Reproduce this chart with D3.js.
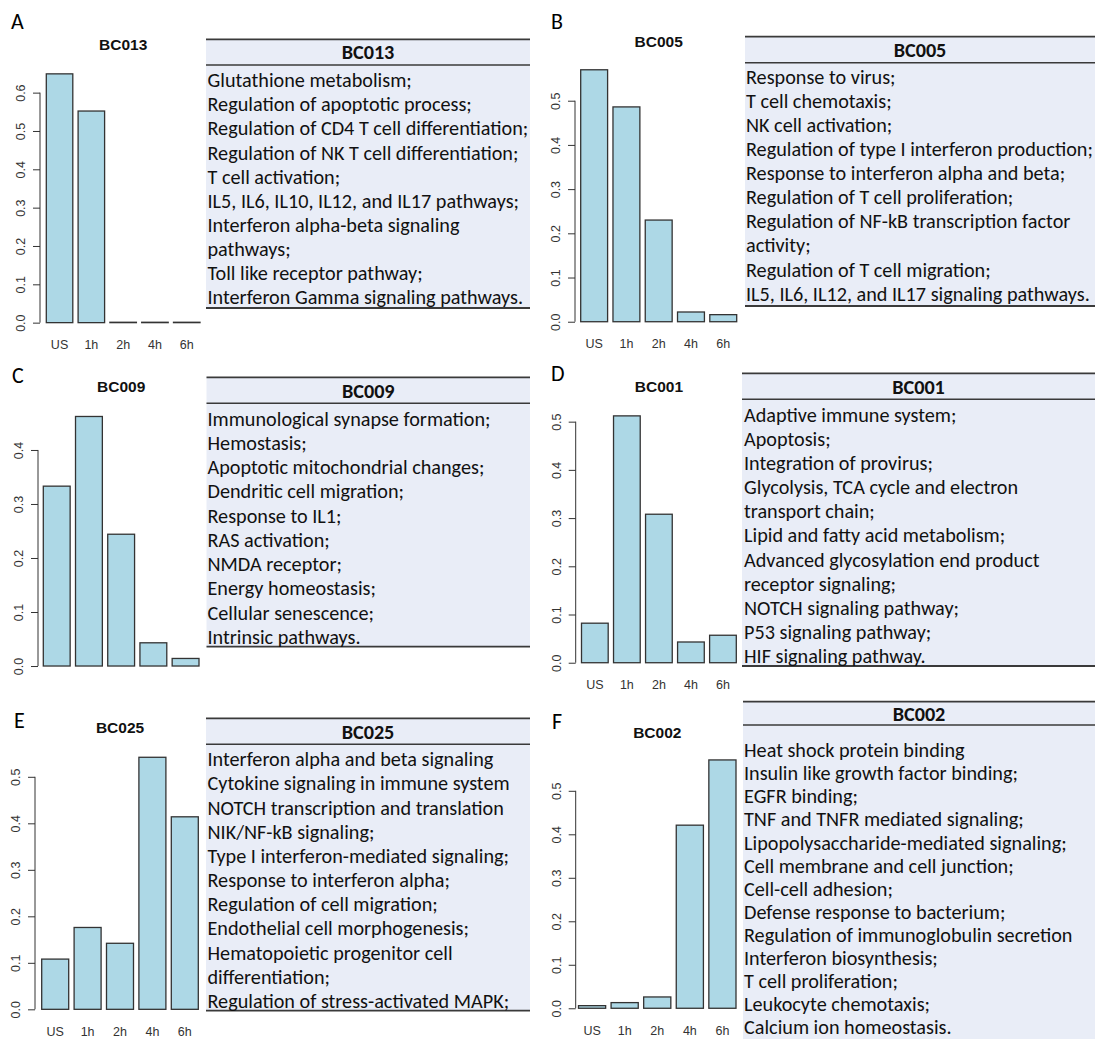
<!DOCTYPE html>
<html>
<head>
<meta charset="utf-8">
<script src="https://cdn.jsdelivr.net/npm/d3@7"></script>
<style>
  body { margin: 0; background: #fff; }
  svg { display: block; }
</style>
</head>
<body>
<div id="figure"></div>
<script>
// ---- data ----
const timepoints = ["US", "1h", "2h", "4h", "6h"];
const letters = ["A", "B", "C", "D", "E", "F"];
const clusters = ["BC013", "BC005", "BC009", "BC001", "BC025", "BC002"];

const valuesBC013 = [0.649, 0.552, 0.001, 0.001, 0.001];
const valuesBC005 = [0.570, 0.486, 0.230, 0.022, 0.016];
const valuesBC009 = [0.333, 0.462, 0.244, 0.043, 0.014];
const valuesBC001 = [0.082, 0.512, 0.308, 0.043, 0.057];
const valuesBC025 = [0.108, 0.176, 0.142, 0.542, 0.414];
const valuesBC002 = [0.006, 0.013, 0.026, 0.421, 0.571];

const termsBC013 = [
  "Glutathione metabolism;",
  "Regulation of apoptotic process;",
  "Regulation of CD4 T cell differentiation;",
  "Regulation of NK T cell differentiation;",
  "T cell activation;",
  "IL5, IL6, IL10, IL12, and IL17 pathways;",
  "Interferon alpha-beta signaling",
  "pathways;",
  "Toll like receptor pathway;",
  "Interferon Gamma signaling pathways.",
];
const termsBC005 = [
  "Response to virus;",
  "T cell chemotaxis;",
  "NK cell activation;",
  "Regulation of type I interferon production;",
  "Response to interferon alpha and beta;",
  "Regulation of T cell proliferation;",
  "Regulation of NF-kB transcription factor",
  "activity;",
  "Regulation of T cell migration;",
  "IL5, IL6, IL12, and IL17 signaling pathways.",
];
const termsBC009 = [
  "Immunological synapse formation;",
  "Hemostasis;",
  "Apoptotic mitochondrial changes;",
  "Dendritic cell migration;",
  "Response to IL1;",
  "RAS activation;",
  "NMDA receptor;",
  "Energy homeostasis;",
  "Cellular senescence;",
  "Intrinsic pathways.",
];
const termsBC001 = [
  "Adaptive immune system;",
  "Apoptosis;",
  "Integration of provirus;",
  "Glycolysis, TCA cycle and electron",
  "transport chain;",
  "Lipid and fatty acid metabolism;",
  "Advanced glycosylation end product",
  "receptor signaling;",
  "NOTCH signaling pathway;",
  "P53 signaling pathway;",
  "HIF signaling pathway.",
];
const termsBC025 = [
  "Interferon alpha and beta signaling",
  "Cytokine signaling in immune system",
  "NOTCH transcription and translation",
  "NIK/NF-kB signaling;",
  "Type I interferon-mediated signaling;",
  "Response to interferon alpha;",
  "Regulation of cell migration;",
  "Endothelial cell morphogenesis;",
  "Hematopoietic progenitor cell",
  "differentiation;",
  "Regulation of stress-activated MAPK;",
];
const termsBC002 = [
  "Heat shock protein binding",
  "Insulin like growth factor binding;",
  "EGFR binding;",
  "TNF and TNFR mediated signaling;",
  "Lipopolysaccharide-mediated signaling;",
  "Cell membrane and cell junction;",
  "Cell-cell adhesion;",
  "Defense response to bacterium;",
  "Regulation of immunoglobulin secretion",
  "Interferon biosynthesis;",
  "T cell proliferation;",
  "Leukocyte chemotaxis;",
  "Calcium ion homeostasis.",
];

const values = [valuesBC013, valuesBC005, valuesBC009, valuesBC001, valuesBC025, valuesBC002];
const terms = [termsBC013, termsBC005, termsBC009, termsBC001, termsBC025, termsBC002];

// ---- layout (pixel positions of each panel piece) ----
const layout = [
  { letter: [11, 29], axisX: 40, bars: [46.3, 200], plot: [63.9, 332.6], titleY: 50, xLabels: true,
    table: { x0: 206, x1: 530, textX: 207.5, top: 39.3, rule: 65, first: 80, lh: 24.08, bottom: 308 } },
  { letter: [551, 29], axisX: 575, bars: [580.7, 736.7], plot: [59.7, 331.8], titleY: 46.7, xLabels: true,
    table: { x0: 745, x1: 1095, textX: 746, top: 36.7, rule: 62.7, first: 76.7, lh: 24.07, bottom: 306 } },
  { letter: [12, 383], axisX: 38, bars: [43.3, 199], plot: [406.5, 676], titleY: 392, xLabels: false,
    table: { x0: 206.5, x1: 530, textX: 207.5, top: 377.3, rule: 403.3, first: 418.3, lh: 24.27, bottom: 646.7 } },
  { letter: [551, 381], axisX: 575.7, bars: [581.5, 736.3], plot: [406, 672.6], titleY: 392, xLabels: true,
    table: { x0: 742, x1: 1095, textX: 744, top: 373.3, rule: 399.3, first: 414.3, lh: 24.17, bottom: 666 } },
  { letter: [14, 728], axisX: 35, bars: [41.7, 198.3], plot: [747.2, 1019.4], titleY: 733, xLabels: true,
    table: { x0: 206, x1: 530, textX: 207.5, top: 718.3, rule: 744.3, first: 759, lh: 24.17, bottom: 1010.7 } },
  { letter: [552, 729], axisX: 575.7, bars: [578.5, 736], plot: [750, 1018.2], titleY: 738, xLabels: true,
    table: { x0: 743, x1: 1095, textX: 744, top: 701.7, rule: 725, first: 750, lh: 23.06, bottom: null } },
];

const colors = {
  bar: "#add8e6",
  ink: "#333",
  tableBg: "#e9edf7",
  tableRule: "#3a3a3a",
  text: "#111",
};

const rFont = "'Liberation Sans', Arial, Helvetica, sans-serif";
const tableFont = "Carlito, Lato, 'Open Sans', sans-serif";

const svg = d3
  .select("#figure")
  .append("svg")
  .attr("width", 1095)
  .attr("height", 1039)
  .attr("viewBox", [0, 0, 1095, 1039]);

// pick a table font size so the longest line of table A is as wide as in the figure
function fitTableFontSize() {
  const probe = svg
    .append("text")
    .attr("font-family", tableFont)
    .attr("font-size", 20)
    .text("Regulation of CD4 T cell differentiation;");
  const w = probe.node().getComputedTextLength();
  probe.remove();
  return (20 * 321) / w;
}
const tableFontSize = fitTableFontSize();

function drawBarPanel(g, i) {
  const L = layout[i];
  const data = values[i];
  const max = d3.max(data);

  // R barplot style: 4% padding around the data range
  const y = d3
    .scaleLinear()
    .domain([-0.04 * max, 1.04 * max])
    .range([L.plot[1], L.plot[0]]);

  const x = d3
    .scaleBand()
    .domain(timepoints)
    .range(L.bars)
    .paddingInner(1 / 6)
    .paddingOuter(0);

  g.append("g")
    .selectAll("rect")
    .data(data)
    .join("rect")
    .attr("x", (d, j) => x(timepoints[j]))
    .attr("width", x.bandwidth())
    .attr("y", (d) => y(d))
    .attr("height", (d) => y(0) - y(d))
    .attr("fill", colors.bar)
    .attr("stroke", colors.ink)
    .attr("stroke-width", 1.3);

  // y axis, line only spans the tick range like R does
  const ticks = y.ticks(6).filter((t) => t >= -1e-9);
  const axis = d3
    .axisLeft(y)
    .tickValues(ticks)
    .tickSize(7)
    .tickSizeOuter(0)
    .tickFormat(d3.format(".1f"));

  const ag = g.append("g").attr("transform", `translate(${L.axisX},0)`).call(axis);
  ag.select(".domain")
    .attr("d", `M0,${y(ticks[0])}V${y(ticks[ticks.length - 1])}`)
    .attr("stroke", colors.ink);
  ag.selectAll(".tick line").attr("stroke", colors.ink);
  ag.selectAll(".tick text")
    .attr("font-family", rFont)
    .attr("font-size", 12.5)
    .attr("fill", colors.ink)
    .attr("text-anchor", "middle")
    .attr("x", null)
    .attr("dy", null)
    .attr("transform", "translate(-15,0) rotate(-90)");

  // title
  g.append("text")
    .attr("x", (L.bars[0] + L.bars[1]) / 2)
    .attr("y", L.titleY)
    .attr("text-anchor", "middle")
    .attr("font-family", rFont)
    .attr("font-weight", "bold")
    .attr("font-size", 15.5)
    .attr("fill", "#111")
    .text(clusters[i]);

  if (L.xLabels) {
    g.append("g")
      .selectAll("text")
      .data(timepoints)
      .join("text")
      .attr("x", (d) => x(d) + x.bandwidth() / 2)
      .attr("y", y(0) + 26.5)
      .attr("text-anchor", "middle")
      .attr("font-family", rFont)
      .attr("font-size", 12.5)
      .attr("fill", colors.ink)
      .text((d) => d);
  }

  // panel letter
  g.append("text")
    .attr("x", L.letter[0])
    .attr("y", L.letter[1])
    .attr("font-family", tableFont)
    .attr("font-size", 22)
    .attr("fill", "#000")
    .text(letters[i]);
}

function drawTable(g, i) {
  const T = layout[i].table;
  const lines = terms[i];
  const bottom = T.bottom == null ? 1039 : T.bottom;

  g.append("rect")
    .attr("x", T.x0)
    .attr("y", T.top)
    .attr("width", T.x1 - T.x0)
    .attr("height", bottom - T.top)
    .attr("fill", colors.tableBg);

  const rules = [T.top, T.rule];
  if (T.bottom != null) rules.push(T.bottom);
  g.append("g")
    .selectAll("line")
    .data(rules)
    .join("line")
    .attr("x1", T.x0)
    .attr("x2", T.x1)
    .attr("y1", (d) => d)
    .attr("y2", (d) => d)
    .attr("stroke", colors.tableRule)
    .attr("stroke-width", (d, j) => (j === 1 ? 1.4 : 1.8));

  // header
  g.append("text")
    .attr("x", (T.x0 + T.x1) / 2)
    .attr("y", (T.top + T.rule) / 2)
    .attr("dy", "0.36em")
    .attr("text-anchor", "middle")
    .attr("font-family", tableFont)
    .attr("font-weight", "bold")
    .attr("font-size", tableFontSize)
    .attr("fill", colors.text)
    .text(clusters[i]);

  g.append("g")
    .selectAll("text")
    .data(lines)
    .join("text")
    .attr("x", T.textX)
    .attr("y", (d, j) => T.first + j * T.lh)
    .attr("dy", "0.36em")
    .attr("font-family", tableFont)
    .attr("font-size", tableFontSize)
    .attr("fill", colors.text)
    .text((d) => d);
}

for (let i = 0; i < clusters.length; i++) {
  const g = svg.append("g").attr("class", "panel-" + letters[i]);
  drawTable(g, i);
  drawBarPanel(g, i);
}
</script>
</body>
</html>
